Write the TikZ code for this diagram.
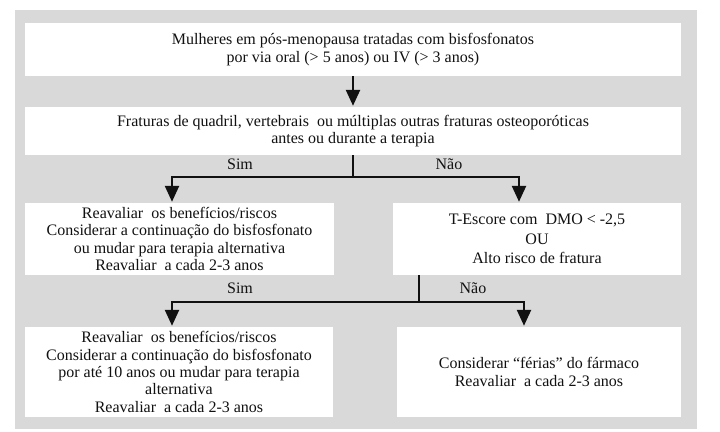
\documentclass[tikz,border=0pt]{standalone}
\usepackage{fontspec}
\setmainfont{Liberation Serif}
\usetikzlibrary{arrows.meta,positioning,calc}
\definecolor{Panel}{HTML}{D9D9D9}
\definecolor{Ink}{HTML}{111111}
\tikzset{
 box/.style={fill=white, draw=none, align=center, inner sep=2pt, text=Ink, font=\fontsize{16}{17.4}\selectfont},
 arrow/.style={-{Triangle[width=14pt,length=16pt]}, line width=2.4pt, draw=Ink, shorten >=1pt},
 branch/.style={line width=2.4pt, draw=Ink},
 answer/.style={inner sep=0pt, text=Ink, font=\fontsize{16}{17}\selectfont}
}

\begin{document}
\begin{tikzpicture}[x=1pt,y=-1pt]
\useasboundingbox (0,0) rectangle (720,431);
\fill[Panel] (15,10) rectangle (697,429);

\node[box, minimum width=656pt, minimum height=53pt] (women) at (353,49.5) {Mulheres em pós-menopausa tratadas com bisfosfonatos\\por via oral (> 5 anos) ou IV (> 3 anos)};
\node[box, minimum width=656pt, minimum height=48pt] (fracture) at (353,131) {Fraturas de quadril, vertebrais\ \ ou múltiplas outras fraturas osteoporóticas\\antes ou durante a terapia};
\node[box, minimum width=309pt, minimum height=72pt] (riskA) at (179.5,239) {Reavaliar\ \ os benefícios/riscos\\Considerar a continuação do bisfosfonato\\ou mudar para terapia alternativa\\Reavaliar\ \ a cada 2-3 anos};
\node[box, minimum width=288pt, minimum height=72pt, font=\fontsize{16}{19.5}\selectfont] (score) at (537,239) {T-Escore com\ \ DMO < -2,5\\OU\\Alto risco de fratura};
\node[box, minimum width=308pt, minimum height=90pt] (riskB) at (179,372) {Reavaliar\ \ os benefícios/riscos\\Considerar a continuação do bisfosfonato\\por até 10 anos ou mudar para terapia\\alternativa\\Reavaliar\ \ a cada 2-3 anos};
\node[box, minimum width=284pt, minimum height=90pt] (holiday) at (539,372) {Considerar “férias” do fármaco\\Reavaliar\ \ a cada 2-3 anos};

\node[answer] (yesA) at (240,164) {Sim};
\node[answer] (noA) at (449,164) {Não};
\node[answer] (yesB) at (240,288) {Sim};
\node[answer] (noB) at (473,288) {Não};

\coordinate (forkA) at (353,177);
\coordinate (forkB) at (419,302);

\draw[arrow] (women) -- (fracture);
\draw[branch] (fracture.south) -- (forkA);
\draw[arrow] (forkA) -| ([xshift=-7.5pt]riskA.north);
\draw[arrow] (forkA) -| ([xshift=-18pt]score.north);
\draw[branch] (score.south -| forkB) -- (forkB);
\draw[arrow] (forkB) -| ([xshift=-7pt]riskB.north);
\draw[arrow] (forkB) -| ([xshift=-15pt]holiday.north);
\end{tikzpicture}
\end{document}
